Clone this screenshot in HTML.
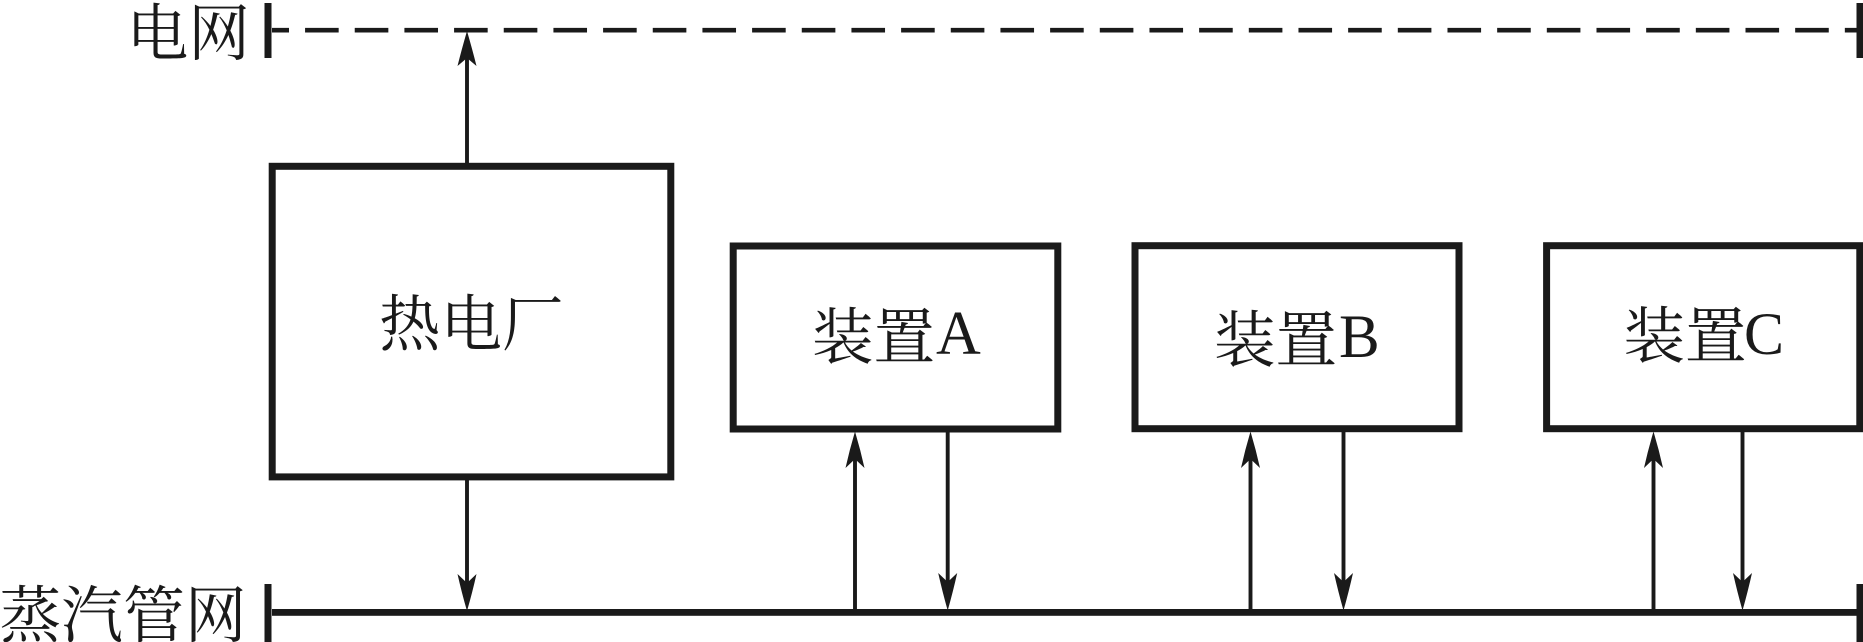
<!DOCTYPE html>
<html lang="zh">
<head>
<meta charset="utf-8">
<style>
html,body{margin:0;padding:0;background:#fff;width:1863px;height:642px;overflow:hidden}
svg{display:block}
text{fill:#1a1a1a;font-family:"Liberation Serif","Noto Serif CJK SC",serif}
.c{font-family:"Noto Serif CJK SC","Liberation Serif",serif;font-size:60px}
</style>
</head>
<body>
<svg width="1863" height="642" viewBox="0 0 1863 642" xmlns="http://www.w3.org/2000/svg">
<rect width="1863" height="642" fill="#fff"/>
<g fill="#1a1a1a">
<rect x="264.5" y="3" width="7" height="55"/>
<rect x="1856.5" y="3" width="6.5" height="55"/>
<rect x="264.5" y="584" width="7" height="58"/>
<rect x="1856.5" y="584" width="6.5" height="58"/>
<rect x="272" y="609" width="1585" height="6.8"/>
</g>
<line x1="272" y1="30.2" x2="1857" y2="30.2" stroke="#1a1a1a" stroke-width="4.6" stroke-dasharray="33.6 16.07" stroke-dashoffset="16.6"/>
<g fill="none" stroke="#1a1a1a" stroke-width="7">
<rect x="272.2" y="166.3" width="398.6" height="310.6"/>
<rect x="733.2" y="246" width="324.6" height="183"/>
<rect x="1135" y="245.7" width="324" height="183"/>
<rect x="1546.6" y="245.7" width="313.2" height="183"/>
</g>
<g stroke="#1a1a1a" stroke-width="3.9">
<line x1="467" y1="163" x2="467" y2="50"/>
<line x1="467" y1="480" x2="467" y2="592"/>
<line x1="855" y1="610" x2="855" y2="450"/>
<line x1="947.7" y1="432" x2="947.7" y2="592"/>
<line x1="1250.5" y1="610" x2="1250.5" y2="450"/>
<line x1="1343.5" y1="432" x2="1343.5" y2="592"/>
<line x1="1653.5" y1="610" x2="1653.5" y2="450"/>
<line x1="1742.5" y1="432" x2="1742.5" y2="592"/>
</g>
<g fill="#1a1a1a">
<path d="M467 31Q472.5 50 476.5 66L467 58L457.5 66Q461.5 50 467 31Z"/>
<path d="M467 611Q472.5 592 476.5 574L467 583L457.5 574Q461.5 592 467 611Z"/>
<path d="M855 431.5Q860.5 450 864.5 468L855 459L845.5 468Q849.5 450 855 431.5Z"/>
<path d="M947.7 610.5Q953.2 591 957.2 573L947.7 582L938.2 573Q942.2 591 947.7 610.5Z"/>
<path d="M1250.5 431.5Q1256 450 1260 468L1250.5 459L1241 468Q1245 450 1250.5 431.5Z"/>
<path d="M1343.5 610.5Q1349 591 1353 573L1343.5 582L1334 573Q1338 591 1343.5 610.5Z"/>
<path d="M1653.5 431.5Q1659 450 1663 468L1653.5 459L1644 468Q1648 450 1653.5 431.5Z"/>
<path d="M1742.5 610.5Q1748 591 1752 573L1742.5 582L1733 573Q1737 591 1742.5 610.5Z"/>
</g>
<text class="c" transform="translate(126.5 55) scale(1.03)">电网</text>
<text class="c" transform="translate(-0.5 637) scale(1.03)">蒸汽管网</text>
<text class="c" transform="translate(379 345.5) scale(1.025)">热电厂</text>
<text class="c" transform="translate(812 358.5) scale(1.025)">装置</text>
<text x="936" y="354" style="font-size:62px">A</text>
<text class="c" transform="translate(1214 361.5) scale(1.025)">装置</text>
<text x="1339" y="357" style="font-size:61px">B</text>
<text class="c" transform="translate(1623.5 357.5) scale(1.025)">装置</text>
<text x="1744" y="354" style="font-size:60px">C</text>
</svg>
</body>
</html>
